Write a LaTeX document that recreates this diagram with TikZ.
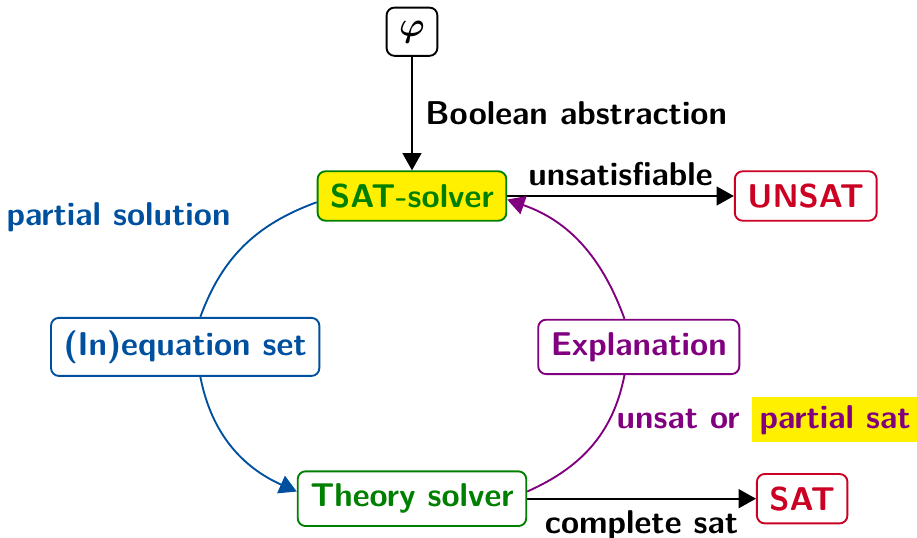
\documentclass[tikz,border=0pt]{standalone}
\usepackage{bm}
\usetikzlibrary{arrows.meta}

\definecolor{solblue}{RGB}{0,80,160}
\definecolor{solgreen}{RGB}{0,128,0}
\definecolor{solpurple}{RGB}{128,0,128}
\definecolor{solred}{RGB}{204,0,34}
\definecolor{solyellow}{RGB}{255,240,0}

\tikzset{
  box/.style={draw, semithick, rounded corners=2.5pt, inner sep=4pt, fill=white},
  lbl/.style={inner sep=3pt},
  tip/.style={-{Triangle[length=5.5pt,width=6pt]}},
}

\begin{document}
\begin{tikzpicture}[every node/.style={font=\fontsize{10.5}{12}\selectfont\sffamily\bfseries}, node distance=1.69cm, semithick]
  \useasboundingbox (-4.614,-3.830) rectangle (5.656,2.195);
  \node[box, draw=solgreen, fill=solyellow, text=solgreen] (satsolver) {SAT-solver};
  \node[box, minimum width=0.56cm, minimum height=0.54cm] (phi) [above of=satsolver, node distance=1.84cm] {$\bm{\varphi}$};
  \node[box, draw=solred, text=solred] (unsat) [right of=satsolver, node distance=4.41cm] {UNSAT};
  \node[box, draw=solblue, text=solblue] (ineq) [below of=satsolver, xshift=-2.54cm] {(In)equation set};
  \node[box, draw=solpurple, text=solpurple] (expl) [below of=satsolver, xshift=2.54cm] {Explanation};
  \node[box, draw=solgreen, text=solgreen] (theory) [below of=satsolver, node distance=3.39cm] {Theory solver};
  \node[box, draw=solred, text=solred] (sat) [right of=theory, node distance=4.37cm] {SAT};
  \draw[tip] (phi) -- node[lbl, right, inner sep=4pt] {Boolean abstraction} (satsolver);
  \draw[tip] (satsolver) -- node[lbl, above] {unsatisfiable} (unsat);
  \draw[tip] (theory.east |- sat) -- node[lbl, below, inner sep=3.5pt] {complete sat} (sat);
  \draw[solblue] ([yshift=-0.07cm]satsolver.west) to[out=200, in=70]
    node[lbl, pos=0.2, left=0.48cm, text=solblue] {partial solution} ([xshift=0.17cm]ineq.north);
  \draw[solblue, tip] ([xshift=0.17cm]ineq.south) to[out=-79, in=156] ([yshift=0.08cm]theory.west);
  \draw[solpurple] ([yshift=0.08cm]theory.east) to[out=24, in=-101]
    node[lbl, pos=0.71, right, inner sep=2pt, text=solpurple] {unsat or \setlength{\fboxsep}{2.5pt}\colorbox{solyellow}{partial sat}} ([xshift=-0.16cm]expl.south);
  \draw[solpurple, tip] ([xshift=-0.16cm]expl.north) to[out=110, in=-19] ([yshift=-0.04cm]satsolver.east);
\end{tikzpicture}
\end{document}
